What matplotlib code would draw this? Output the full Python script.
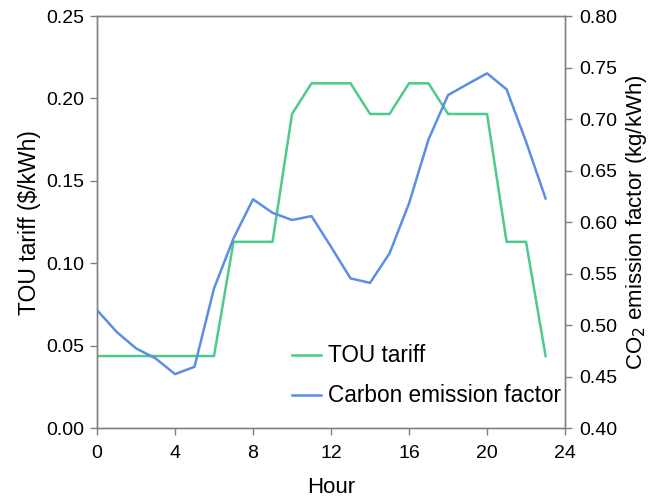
import matplotlib
matplotlib.use("Agg")
import matplotlib.pyplot as plt

plt.rcParams['font.family'] = ['Liberation Sans', 'DejaVu Sans']

hours = list(range(24))
tou_tariff = [0.0437, 0.0437, 0.0437, 0.0437, 0.0437, 0.0437, 0.0437,
              0.113, 0.113, 0.113, 0.1906, 0.2092, 0.2092, 0.2092,
              0.1906, 0.1906, 0.2092, 0.2092, 0.1906, 0.1906, 0.1906,
              0.113, 0.113, 0.0437]
carbon_factor = [0.5146, 0.4935, 0.4774, 0.4677, 0.4524, 0.4595, 0.5356,
                 0.5842, 0.6221, 0.609, 0.602, 0.6058, 0.576, 0.5453,
                 0.541, 0.5696, 0.6182, 0.6803, 0.7233, 0.734, 0.7444,
                 0.7289, 0.678, 0.623]
x_ticks = [0, 4, 8, 12, 16, 20, 24]
left_ticks = [0.00, 0.05, 0.10, 0.15, 0.20, 0.25]
right_ticks = [0.40, 0.45, 0.50, 0.55, 0.60, 0.65, 0.70, 0.75, 0.80]

green = '#4ccb8c'
blue = '#5b8fe3'
spine_c = '#808080'

fig = plt.figure(figsize=(6.51, 5.03), dpi=100)
ax = fig.add_axes([0.149, 0.149, 0.719, 0.819])
ax2 = ax.twinx()

l1, = ax.plot(hours, tou_tariff, color=green, lw=1.8, label='TOU tariff')
l2, = ax2.plot(hours, carbon_factor, color=blue, lw=1.8, label='Carbon emission factor')

ax.set_xlim(0, 24)
ax.set_ylim(0, 0.25)
ax2.set_ylim(0.4, 0.8)
ax.set_xticks(x_ticks)
ax.set_yticks(left_ticks)
ax.set_yticklabels([f'{v:.2f}' for v in left_ticks])
ax2.set_yticks(right_ticks)
ax2.set_yticklabels([f'{v:.2f}' for v in right_ticks])

for a in (ax, ax2):
    for s in a.spines.values():
        s.set_color(spine_c)
        s.set_linewidth(1.0)
    a.tick_params(colors=spine_c, labelcolor='black', labelsize=14, length=5, width=1.0)
ax.tick_params(axis='x', pad=7)
ax.tick_params(axis='y', pad=4)
ax2.tick_params(axis='y', pad=5)

ax.set_xlabel('Hour', fontsize=16)
ax.xaxis.set_label_coords(0.5, -0.118)
ax.set_ylabel('TOU tariff ($/kWh)', fontsize=16.5)
ax.yaxis.set_label_coords(-0.12, 0.5)
ax2.set_ylabel('CO$_2$ emission factor (kg/kWh)', fontsize=16)
ax2.yaxis.set_label_coords(1.126, 0.5)

ax.legend(handles=[l1, l2], loc='lower right', frameon=False, fontsize=16.3,
          handlelength=1.25, handletextpad=0.33, labelspacing=0.75,
          borderpad=0, borderaxespad=0,
          bbox_to_anchor=((561 - 97) / 468, 0.05))

fig.savefig('out.png', dpi=100)
